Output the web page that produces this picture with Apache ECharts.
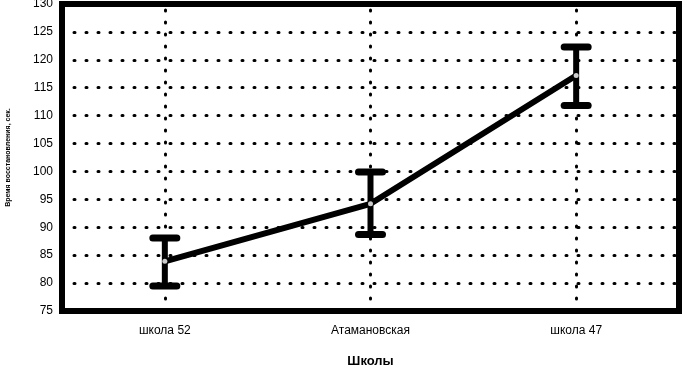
<!DOCTYPE html>
<html>
<head>
<meta charset="utf-8">
<script src="https://cdn.jsdelivr.net/npm/echarts@6/dist/echarts.min.js"></script>
<style>
  html, body { margin: 0; padding: 0; background: #fff; }
  #chart { width: 685px; height: 370px; }
</style>
</head>
<body>
<div id="chart"></div>
<script>
const schools = ['школа 52', 'Атамановская', 'школа 47']
const means = [83.9, 94.2, 117.2]
const lows = [79.5, 88.7, 111.8]
const highs = [88.1, 99.9, 122.3]

const chart = echarts.init(document.getElementById('chart'))

const dotted = {
  color: '#000',
  width: 3,
  type: [1, 11],
  cap: 'round'
}

const errData = schools.map((s, i) => [i, lows[i], highs[i]])

let option = {
  backgroundColor: '#fff',
  animation: false,
  grid: {
    left: 62,
    right: 6,
    top: 4,
    bottom: 59,
    containLabel: false,
    outerBoundsMode: 'none',
    show: true,
    borderColor: '#000',
    borderWidth: 6
  },
  xAxis: {
    type: 'category',
    data: schools,
    boundaryGap: true,
    name: 'Школы',
    nameLocation: 'middle',
    nameGap: 44,
    nameTextStyle: { fontFamily: 'Liberation Sans', fontSize: 13, fontWeight: 'bold', color: '#000' },
    axisLine: { show: false },
    axisTick: { show: false },
    axisLabel: { fontFamily: 'Liberation Sans', fontSize: 12, color: '#000', margin: 14, interval: 0 },
    splitLine: { show: false }
  },
  yAxis: {
    type: 'value',
    min: 75,
    max: 130,
    interval: 5,
    name: 'Время восстановления, сек.',
    nameLocation: 'middle',
    nameGap: 50,
    nameRotate: 90,
    nameTextStyle: { fontFamily: 'Liberation Sans', fontSize: 7, fontWeight: 'bold', color: '#000' },
    axisLine: { show: false },
    axisTick: { show: false },
    axisLabel: { fontFamily: 'Liberation Sans', fontSize: 12, color: '#000', margin: 9 },
    splitLine: { show: true, lineStyle: dotted }
  },
  series: [
    {
      type: 'line',
      data: means,
      lineStyle: { color: '#000', width: 6 },
      symbol: 'none',
      z: 3,
      markLine: {
        silent: true,
        symbol: 'none',
        label: { show: false },
        lineStyle: dotted,
        data: schools.map((s, i) => ({ xAxis: i }))
      }
    },
    {
      type: 'custom',
      data: errData,
      z: 4,
      renderItem: (params, api) => {
        const x = api.value(0)
        const lo = api.coord([x, api.value(1)])
        const hi = api.coord([x, api.value(2)])
        const cap = 12
        const st = { stroke: '#000', lineWidth: 7, lineCap: 'round' }
        return {
          type: 'group',
          children: [
            { type: 'line', shape: { x1: lo[0], y1: lo[1], x2: hi[0], y2: hi[1] }, style: { stroke: '#000', lineWidth: 6 } },
            { type: 'line', shape: { x1: lo[0] - cap, y1: lo[1], x2: lo[0] + cap, y2: lo[1] }, style: st },
            { type: 'line', shape: { x1: hi[0] - cap, y1: hi[1], x2: hi[0] + cap, y2: hi[1] }, style: st }
          ]
        }
      }
    },
    {
      type: 'scatter',
      data: means,
      symbol: 'circle',
      symbolSize: 5,
      itemStyle: { color: '#fff' },
      z: 5
    }
  ]
}
chart.setOption(option)
</script>
</body>
</html>
